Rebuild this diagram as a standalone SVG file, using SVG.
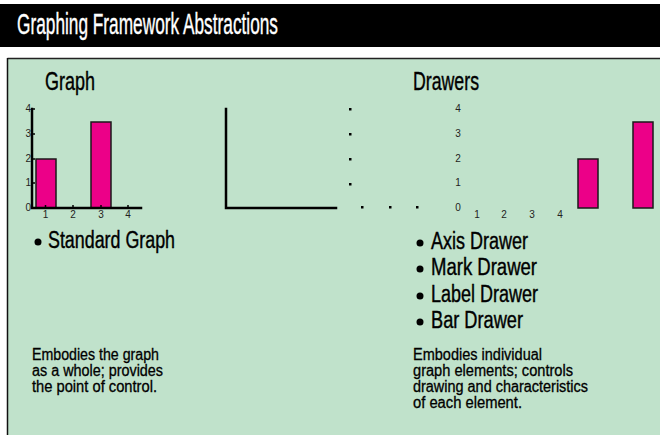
<svg xmlns="http://www.w3.org/2000/svg" width="660" height="435" viewBox="0 0 660 435">
  <style>
    .cond { font-family: "Liberation Sans", Arial, sans-serif; fill: #000; stroke: #000; stroke-width: 0.4; }
    .title { font-family: "Liberation Sans", Arial, sans-serif; fill: #fff; stroke: #fff; stroke-width: 0.4; font-size: 30px; }
    .head { font-size: 26px; }
    .bullet { font-size: 23px; }
    .desc { font-size: 16px; stroke-width: 0.3; }
    .num { font-family: "Liberation Sans", Arial, sans-serif; font-size: 10px; fill: #222; }
    .axis { stroke: #000; stroke-width: 2.5; fill: none; stroke-linecap: square; }
    .bar { fill: #EC0088; stroke: #1a1a1a; stroke-width: 1.5; }
    .dot { fill: #000; }
  </style>

  <!-- page background -->
  <rect x="0" y="0" width="660" height="435" fill="#fff"/>

  <!-- title bar -->
  <g id="title">
    <rect x="0" y="4" width="660" height="43" fill="#000"/>
    <text class="title" x="17" y="34" textLength="261" lengthAdjust="spacingAndGlyphs">Graphing Framework Abstractions</text>
  </g>

  <!-- green panel -->
  <g id="panel">
    <rect x="7.5" y="58.5" width="660" height="390" fill="#C0E2CB"/>
    <line x1="7.5" y1="58.5" x2="660" y2="58.5" stroke="#222" stroke-width="1.5"/>
    <line x1="7.5" y1="58" x2="7.5" y2="435" stroke="#111" stroke-width="1.5"/>
  </g>

  <!-- Graph: a complete standard graph -->
  <g id="graph">
    <text class="cond head" x="45" y="90" textLength="50" lengthAdjust="spacingAndGlyphs">Graph</text>
    <rect class="bar" x="36" y="159" width="20" height="49"/>
    <rect class="bar" x="91" y="122" width="20" height="86"/>
    <path class="axis" d="M32 109 V208 H141"/>
    <g stroke="#000" stroke-width="1.5">
      <line x1="32" y1="109" x2="35" y2="109"/>
      <line x1="32" y1="134" x2="35" y2="134"/>
      <line x1="32" y1="159" x2="35" y2="159"/>
      <line x1="32" y1="183" x2="35" y2="183"/>
      <line x1="45.5" y1="205" x2="45.5" y2="208"/>
      <line x1="73" y1="205" x2="73" y2="208"/>
      <line x1="101" y1="205" x2="101" y2="208"/>
      <line x1="128" y1="205" x2="128" y2="208"/>
    </g>
    <g class="num" text-anchor="end">
      <text x="31" y="112">4</text>
      <text x="31" y="137">3</text>
      <text x="31" y="162">2</text>
      <text x="31" y="186">1</text>
      <text x="31" y="211">0</text>
    </g>
    <g class="num" text-anchor="middle">
      <text x="45.5" y="218">1</text>
      <text x="73" y="218">2</text>
      <text x="101" y="218">3</text>
      <text x="128" y="218">4</text>
    </g>
    <circle cx="38" cy="242" r="3.5"/>
    <text class="cond bullet" x="48" y="248" textLength="127" lengthAdjust="spacingAndGlyphs">Standard Graph</text>
    <g class="cond desc">
      <text x="32" y="360" textLength="127" lengthAdjust="spacingAndGlyphs">Embodies the graph</text>
      <text x="32" y="376" textLength="131" lengthAdjust="spacingAndGlyphs">as a whole; provides</text>
      <text x="32" y="392" textLength="125" lengthAdjust="spacingAndGlyphs">the point of control.</text>
    </g>
  </g>

  <!-- Drawers: the graph split into its separate elements -->
  <g id="drawers">
    <text class="cond head" x="413" y="90" textLength="66" lengthAdjust="spacingAndGlyphs">Drawers</text>

    <!-- axis drawer -->
    <path class="axis" d="M226 109 V208 H336"/>

    <!-- mark drawer -->
    <g class="dot">
      <rect x="349" y="108" width="2.5" height="2.5"/>
      <rect x="349" y="133" width="2.5" height="2.5"/>
      <rect x="349" y="158" width="2.5" height="2.5"/>
      <rect x="349" y="183" width="2.5" height="2.5"/>
      <rect x="361" y="206" width="2.5" height="2.5"/>
      <rect x="389" y="206" width="2.5" height="2.5"/>
      <rect x="416" y="206" width="2.5" height="2.5"/>
    </g>

    <!-- label drawer -->
    <g class="num" text-anchor="middle">
      <text x="458" y="112">4</text>
      <text x="458" y="137">3</text>
      <text x="458" y="162">2</text>
      <text x="458" y="186">1</text>
      <text x="458" y="211">0</text>
      <text x="477" y="218">1</text>
      <text x="504" y="218">2</text>
      <text x="532" y="218">3</text>
      <text x="560" y="218">4</text>
    </g>

    <!-- bar drawer -->
    <rect class="bar" x="578" y="159" width="20" height="49"/>
    <rect class="bar" x="633" y="122" width="20" height="86"/>

    <g>
      <circle cx="420" cy="243" r="3.5"/>
      <circle cx="420" cy="269" r="3.5"/>
      <circle cx="420" cy="296" r="3.5"/>
      <circle cx="420" cy="322" r="3.5"/>
    </g>
    <g class="cond bullet">
      <text x="431" y="249" textLength="97" lengthAdjust="spacingAndGlyphs">Axis Drawer</text>
      <text x="431" y="275" textLength="106" lengthAdjust="spacingAndGlyphs">Mark Drawer</text>
      <text x="431" y="302" textLength="107" lengthAdjust="spacingAndGlyphs">Label Drawer</text>
      <text x="431" y="328" textLength="92" lengthAdjust="spacingAndGlyphs">Bar Drawer</text>
    </g>
    <g class="cond desc">
      <text x="413" y="360" textLength="129" lengthAdjust="spacingAndGlyphs">Embodies individual</text>
      <text x="413" y="376" textLength="160" lengthAdjust="spacingAndGlyphs">graph elements; controls</text>
      <text x="413" y="392" textLength="175" lengthAdjust="spacingAndGlyphs">drawing and characteristics</text>
      <text x="413" y="408" textLength="109" lengthAdjust="spacingAndGlyphs">of each element.</text>
    </g>
  </g>
</svg>
